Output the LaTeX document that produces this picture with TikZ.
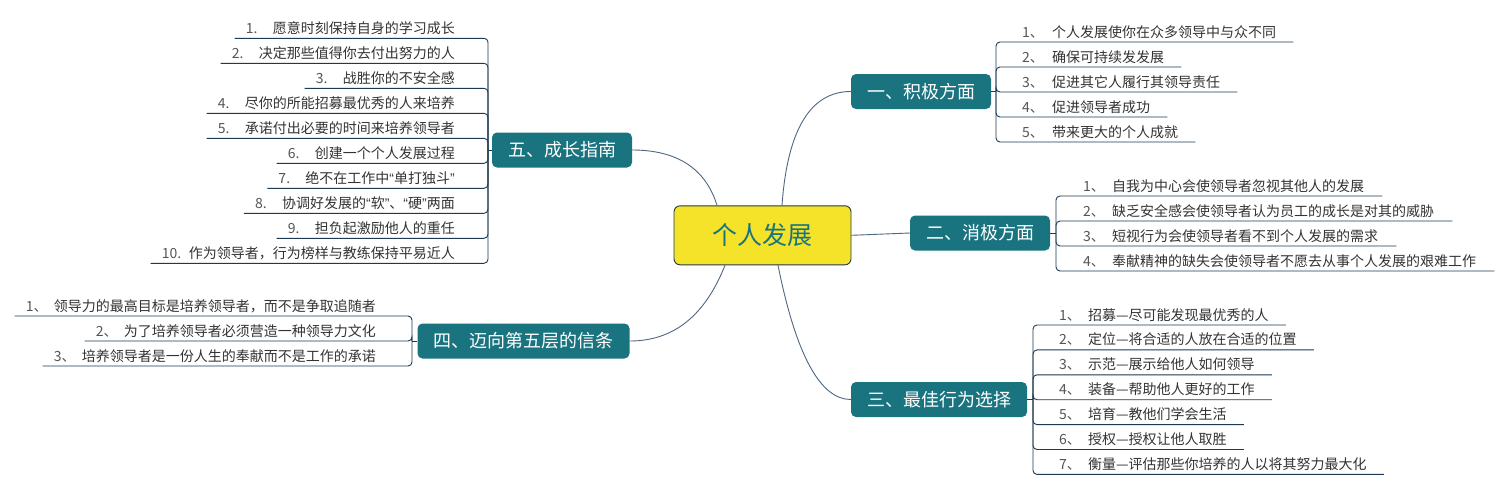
\documentclass[tikz,border=0pt]{standalone}
\usepackage{fontspec}
\setmainfont{Noto Sans CJK SC}
\newfontfamily\latinf{Liberation Sans}
\usetikzlibrary{calc}
\definecolor{tealc}{HTML}{1A7480}
\definecolor{yelc}{HTML}{F5E32A}
\definecolor{navyc}{HTML}{1E3A52}
\definecolor{conncol}{HTML}{4F6782}
\definecolor{txtc}{HTML}{333333}
\definecolor{numc}{HTML}{555555}
\newcommand\myLq{{\latinf “}}
\newcommand\myRq{{\latinf ”}}
\begin{document}
\begin{tikzpicture}[x=1pt,y=-1pt,
  rootnode/.style={draw=navyc, line width=0.9pt, fill=yelc, rounded corners=6pt,
    minimum width=177pt, minimum height=59pt, inner sep=0pt,
    font=\fontsize{25}{30}\selectfont, text=tealc},
  branch/.style={fill=tealc, rounded corners=5pt, minimum height=35pt,
    inner xsep=16pt, inner ysep=0pt, font=\fontsize{18}{22}\selectfont, text=white},
  leaf/.style={inner sep=0pt, font=\fontsize{14}{17}\selectfont, text=txtc},
  bracket/.style={draw=navyc, line width=0.9pt, rounded corners=4pt},
  curve/.style={draw=conncol, line width=0.9pt}]
\fill[white] (0,0) rectangle (1511,491);
\useasboundingbox (0,0) rectangle (1511,491);

% root and branches
\node[rootnode] (root) at (762.5,235.3) {个人发展};
\node[branch] (n1) at (921,91.5) {一、积极方面};
\node[branch] (n2) at (980,233) {二、消极方面};
\node[branch] (n3) at (939,399.5) {三、最佳行为选择};
\node[branch] (n4) at (523.5,341) {四、迈向第五层的信条};
\node[branch] (n5) at (562,150) {五、成长指南};

% connectors from root
\draw[curve] ($(root.north)+(19.5pt,0)$) .. controls (787.3,130) and (810.3,91.5) .. (n1.west);
\draw[curve] (root.east) -- (n2.west);
\draw[curve] ($(root.south)+(15.5pt,0)$) .. controls (796,355) and (820.3,399.5) .. (n3.west);
\draw[curve] ($(root.south)+(-37.5pt,0)$) .. controls (705,315.7) and (673.7,341) .. (n4.east);
\draw[curve] ($(root.north)+(-45.5pt,0)$) .. controls (705.7,168.7) and (677.3,150) .. (n5.east);

% junction columns
\coordinate (X1) at (996,0);
\coordinate (X2) at (1056,0);
\coordinate (X3) at (1033,0);
\coordinate (X4) at (412,0);
\coordinate (X5) at (488,0);
\coordinate (j1) at (n1.east -| X1);
\coordinate (j2) at (n2.east -| X2);
\coordinate (j3) at (n3.east -| X3);
\coordinate (j4) at (n4.west -| X4);
\coordinate (j5) at (n5.west -| X5);
\draw[bracket] (n1.east) -- (j1);
\draw[bracket] (n2.east) -- (j2);
\draw[bracket] (n3.east) -- (j3);
\draw[bracket] (n4.west) -- (j4);
\draw[bracket] (n5.west) -- (j5);

% branch 1
\foreach \t [count=\i] in {个人发展使你在众多领导中与众不同,确保可持续发发展,促进其它人履行其领导责任,促进领导者成功,带来更大的个人成就}{
  \node[leaf,anchor=base west] (a\i) at (1022,{42+25*(\i-1)-5}) {\makebox[30pt][l]{\color{numc}\i、}\t};
  \draw[bracket] (j1) -- (996,{42+25*(\i-1)}) -- ($(a\i.base east)+(17pt,-5pt)$);
}

% branch 2
\foreach \t [count=\i] in {自我为中心会使领导者忽视其他人的发展,缺乏安全感会使领导者认为员工的成长是对其的威胁,短视行为会使领导者看不到个人发展的需求,奉献精神的缺失会使领导者不愿去从事个人发展的艰难工作}{
  \node[leaf,anchor=base west] (b\i) at (1083,{196+25*(\i-1)-5}) {\makebox[29pt][l]{\color{numc}\i、}\t};
  \draw[bracket] (j2) -- (1056,{196+25*(\i-1)}) -- ($(b\i.base east)+(18pt,-5pt)$);
}

% branch 3
\foreach \t [count=\i] in {招募—尽可能发现最优秀的人,定位—将合适的人放在合适的位置,示范—展示给他人如何领导,装备—帮助他人更好的工作,培育—教他们学会生活,授权—授权让他人取胜,衡量—评估那些你培养的人以将其努力最大化}{
  \node[leaf,anchor=base west] (c\i) at (1059,{325+24.9*(\i-1)-5}) {\makebox[29pt][l]{\color{numc}\i、}\t};
  \draw[bracket] (j3) -- (1033,{325+24.9*(\i-1)}) -- ($(c\i.base east)+(17pt,-5pt)$);
}

% branch 4
\foreach \t [count=\i] in {领导力的最高目标是培养领导者，而不是争取追随者,为了培养领导者必须营造一种领导力文化,培养领导者是一份人生的奉献而不是工作的承诺}{
  \node[leaf,anchor=base east] (d\i) at (376,{316+25*(\i-1)-5}) {\makebox[28pt][l]{\color{numc}\i、}\t};
  \draw[bracket] (j4) -- (412,{316+25*(\i-1)}) -- ($(d\i.base west)+(-11pt,-5pt)$);
}

% branch 5
\foreach \t [count=\i] in {愿意时刻保持自身的学习成长,决定那些值得你去付出努力的人,战胜你的不安全感,尽你的所能招募最优秀的人来培养,承诺付出必要的时间来培养领导者,创建一个个人发展过程,绝不在工作中\myLq 单打独斗\myRq,协调好发展的\myLq 软\myRq 、\myLq 硬\myRq 两面,担负起激励他人的重任,作为领导者，行为榜样与教练保持平易近人}{
  \node[leaf,anchor=base east] (e\i) at (455,{38.3+25*(\i-1)-5}) {\makebox[27pt][l]{\color{numc}\i.}\t};
  \draw[bracket] (j5) -- (488,{38.3+25*(\i-1)}) -- ($(e\i.base west)+(-11pt,-5pt)$);
}
\end{tikzpicture}
\end{document}
